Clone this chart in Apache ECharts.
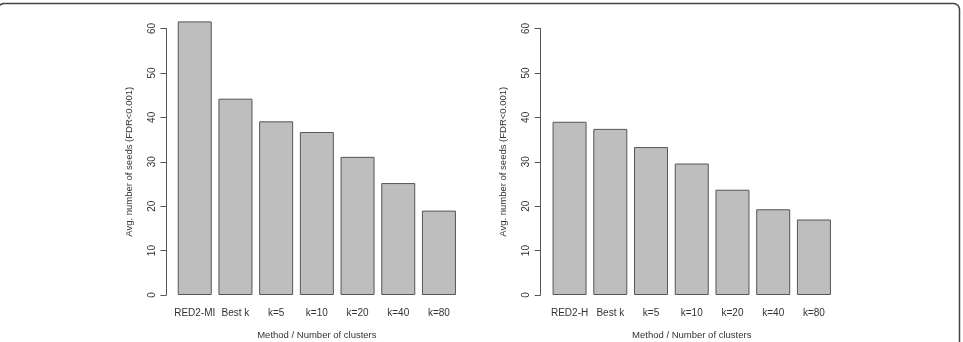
<!DOCTYPE html>
<html>
  <head>
    <meta charset="utf-8">
    <title>Avg. number of seeds</title>
    <style type="text/css">
      html, body { margin: 0; padding: 0; background: #fff; }
      #main { width: 963px; height: 342px; }
    </style>
  </head>
  <body>
    <div id="main"></div>
  </body>
  <script src="https://cdn.jsdelivr.net/npm/echarts@6/dist/echarts.min.js"></script>
  <script type="text/javascript">
    // data
    var leftCats = ["RED2-MI", "Best k", "k=5", "k=10", "k=20", "k=40", "k=80"];
    var leftVals = [61.6, 44.2, 39.1, 36.7, 31.1, 25.2, 19.0];
    var rightCats = ["RED2-H", "Best k", "k=5", "k=10", "k=20", "k=40", "k=80"];
    var rightVals = [39.0, 37.4, 33.3, 29.6, 23.7, 19.3, 17.0];
    var yTicks = [0, 10, 20, 30, 40, 50, 60];

    var font = "Liberation Sans, Arial, sans-serif";
    var ink = "#333";
    var line = "#555";

    var myChart = echarts.init(document.getElementById("main"), null, { renderer: "canvas" });

    function xAx(idx, cats) {
      return {
        type: "category",
        gridIndex: idx,
        data: cats,
        axisLine: { show: false },
        axisTick: { show: false },
        axisLabel: { color: ink, fontFamily: font, fontSize: 10, margin: 13, interval: 0 },
        name: "Method / Number of clusters",
        nameLocation: "middle",
        nameGap: 35,
        nameTextStyle: { color: ink, fontFamily: font, fontSize: 9.5 }
      };
    }
    function yAx(idx, off) {
      return {
        type: "value",
        gridIndex: idx,
        min: yTicks[0],
        max: yTicks[yTicks.length - 1],
        interval: 10,
        offset: off,
        splitLine: { show: false },
        axisLine: { show: true, lineStyle: { color: line, width: 1 } },
        axisTick: { show: true, length: 6, lineStyle: { color: line, width: 1 } },
        axisLabel: { color: ink, fontFamily: font, fontSize: 10, rotate: 90, margin: 9 },
        name: "Avg. number of seeds (FDR<0.001)",
        nameLocation: "middle",
        nameGap: 32,
        nameTextStyle: { color: ink, fontFamily: font, fontSize: 9.5 }
      };
    }
    function bars(idx, vals) {
      return {
        type: "bar",
        xAxisIndex: idx,
        yAxisIndex: idx,
        data: vals,
        barWidth: 34,
        clip: false,
        silent: true,
        itemStyle: { color: "#bebebe", borderColor: line, borderWidth: 1 }
      };
    }

    var option = {
      animation: false,
      backgroundColor: "#fff",
      grid: [
        { left: 174.4, top: 28.5, width: 284.9, height: 266.5, outerBoundsMode: "none", containLabel: false },
        { left: 549.2, top: 28.5, width: 285.1, height: 266.5, outerBoundsMode: "none", containLabel: false }
      ],
      xAxis: [xAx(0, leftCats), xAx(1, rightCats)],
      yAxis: [yAx(0, 8), yAx(1, 8.5)],
      series: [bars(0, leftVals), bars(1, rightVals)],
      graphic: [
        {
          type: "rect",
          silent: true,
          shape: { x: -2, y: 3.5, width: 961.5, height: 400, r: 6 },
          style: { fill: "none", stroke: "#444", lineWidth: 1.5 }
        }
      ]
    };
    myChart.setOption(option);
  </script>
</html>
